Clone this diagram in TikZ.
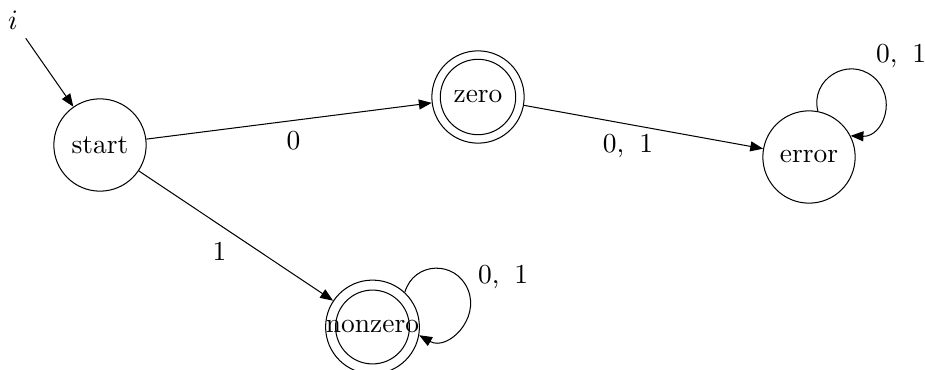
\documentclass[tikz,border=0pt]{standalone}
\usetikzlibrary{arrows.meta}
\begin{document}
\begin{tikzpicture}[x=0.39pt,y=-0.39pt,
  font=\fontsize{10.7pt}{13pt}\selectfont,
  state/.style={circle, draw, line width=0.4pt, minimum size=36pt, inner sep=0pt},
  edgearrow/.style={line width=0.4pt, -{Triangle[length=5pt,width=3.9pt]}},
  lbl/.style={inner sep=0pt}]
\useasboundingbox (0,0) rectangle (925,370);
\node[state] (start) at (100,145) {start};
\node[state] (zero) at (478,97) {zero};
\node[state] (error) at (809,157) {error};
\node[state] (nonzero) at (372.5,327) {nonzero};
\draw[line width=0.4pt] (zero.center) circle[radius=14.7pt];
\draw[line width=0.4pt] (nonzero.center) circle[radius=14.4pt];
\node (init) at (13,20) {$i$};
\coordinate (nzloop) at (468,289.7);
\coordinate (erloop) at (872.9,76.6);
\draw[edgearrow] (init) -- (start);
\draw[edgearrow] (start) -- node[lbl, pos=0.516, yshift=-7.8pt] {0} (zero);
\draw[edgearrow] (zero) -- node[lbl, pos=0.435, yshift=-8.6pt] {0,\hspace{0.55em}1} (error);
\draw[edgearrow] (start) -- node[lbl, pos=0.48, xshift=-4.9pt, yshift=-7.2pt] {1} (nonzero);
\draw[edgearrow] (nonzero.47) .. controls +(8.9,-31) and +(-12.2,-29.9) .. (nzloop)
  node[lbl, xshift=13.7pt, yshift=5pt] {0,\hspace{0.55em}1}
  .. controls +(12.2,29.9) and +(28.1,16) .. (nonzero.-10);
\draw[edgearrow] (error.79) .. controls +(-8.1,-31.7) and +(-25.4,-20.6) .. (erloop)
  node[lbl, xshift=11pt, yshift=8pt] {0,\hspace{0.55em}1}
  .. controls +(25.4,20.6) and +(32.7,1.3) .. (error.27);
\end{tikzpicture}
\end{document}
